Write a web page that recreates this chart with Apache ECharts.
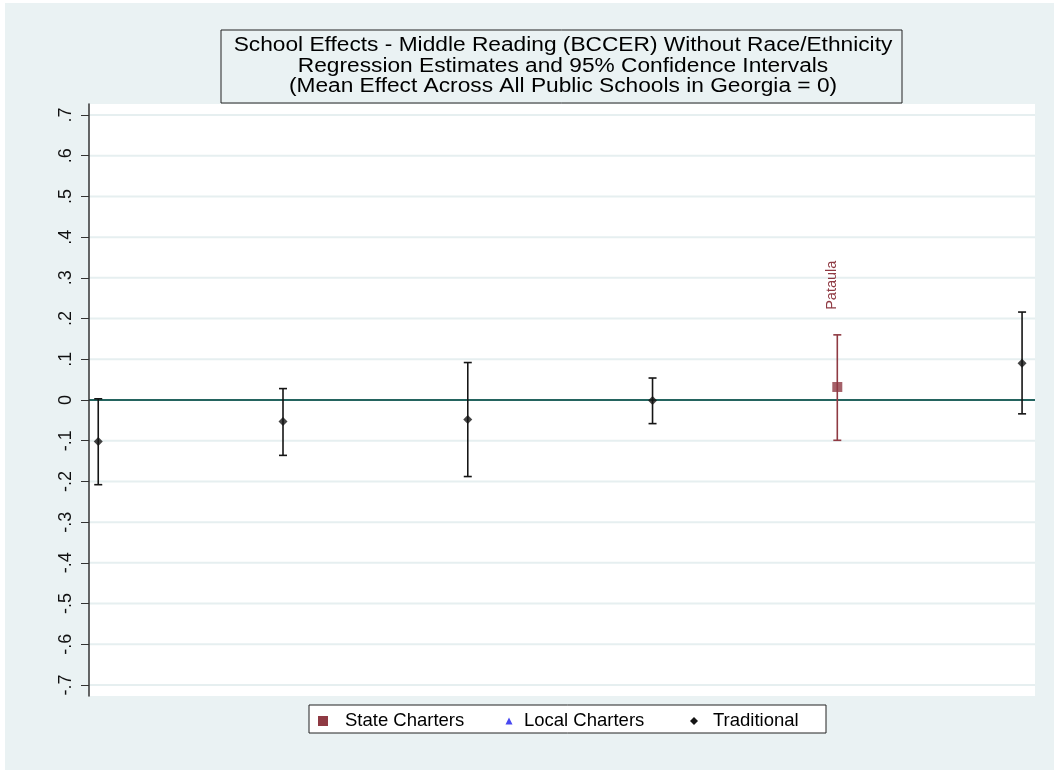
<!DOCTYPE html>
<html>
<head>
<meta charset="utf-8">
<script src="https://cdn.jsdelivr.net/npm/echarts@6/dist/echarts.min.js"></script>
<style>
html,body{margin:0;padding:0;background:#ffffff;}
#chart{width:1054px;height:770px;}
</style>
</head>
<body>
<div id="chart"></div>
<script>
// ---- data ----
const titleLines = [
  'School Effects - Middle Reading (BCCER) Without Race/Ethnicity',
  'Regression Estimates and 95% Confidence Intervals',
  '(Mean Effect Across All Public Schools in Georgia = 0)'
];
const yTicks = [-0.7,-0.6,-0.5,-0.4,-0.3,-0.2,-0.1,0,0.1,0.2,0.3,0.4,0.5,0.6,0.7];
const yTickLabels = ['-.7','-.6','-.5','-.4','-.3','-.2','-.1','0','.1','.2','.3','.4','.5','.6','.7'];
const refLine = [0];
// Traditional schools: position, estimate, lower CI, upper CI
const tradPos = [1, 2, 3, 4, 6];
const tradEst = [-0.102, -0.053, -0.048, -0.001, 0.090];
const tradLo  = [-0.208, -0.136, -0.188, -0.058, -0.034];
const tradHi  = [0.003, 0.028, 0.092, 0.054, 0.216];
// State charters
const statePos = [5];
const stateEst = [0.032];
const stateLo  = [-0.099];
const stateHi  = [0.160];
const stateNames = ['Pataula'];
// Local charters (none in this chart)
const localPos = [];
const localEst = [];
const legendNames = ['State Charters', 'Local Charters', 'Traditional'];

const FONT = '"Liberation Sans", Arial, Helvetica, sans-serif';
const RED = '#8f3a43';
const BLACK = '#151515';
const BLUE = '#1a1aee';

const tradPoints = tradPos.map((p,i)=>[p, tradEst[i]]);
const tradBars = tradPos.map((p,i)=>[p, tradLo[i], tradHi[i]]);
const statePoints = statePos.map((p,i)=>[p, stateEst[i]]);
const stateBars = statePos.map((p,i)=>[p, stateLo[i], stateHi[i], stateNames[i]]);
const localPoints = localPos.map((p,i)=>[p, localEst[i]]);

function hLine(color, width){
  return function(params, api){
    const cs = params.coordSys;
    const p = api.coord([1, api.value(0)]);
    return {type:'line', shape:{x1:cs.x, y1:p[1], x2:cs.x+cs.width, y2:p[1]},
            style:{stroke:color, lineWidth:width}};
  };
}

function errBar(color, withLabel){
  return function(params, api){
    const x = api.value(0);
    const lo = api.coord([x, api.value(1)]);
    const hi = api.coord([x, api.value(2)]);
    const cap = 4;
    const style = {stroke: color, lineWidth: 1.6, fill: null};
    const children = [
      {type:'line', shape:{x1:lo[0], y1:lo[1], x2:hi[0], y2:hi[1]}, style: style},
      {type:'line', shape:{x1:lo[0]-cap, y1:lo[1], x2:lo[0]+cap, y2:lo[1]}, style: style},
      {type:'line', shape:{x1:hi[0]-cap, y1:hi[1], x2:hi[0]+cap, y2:hi[1]}, style: style}
    ];
    if (withLabel) {
      children.push({
        type:'text', x: hi[0] - 5, y: hi[1] - 25, rotation: Math.PI/2,
        style:{text: api.value(3), fill: color, font: '14.5px ' + FONT, align:'left', verticalAlign:'middle'}
      });
    }
    return {type:'group', children: children};
  };
}

const titleStyle = (t)=>({text:t, font:'19.5px '+FONT, fill:'#000', align:'center', verticalAlign:'middle'});
const legendText = {fontFamily:FONT, fontSize:18.5, color:'#000', lineHeight:20};

const chart = echarts.init(document.getElementById('chart'), null, {renderer:'canvas'});
const option = {
  animation: false,
  backgroundColor: '#ffffff',
  graphic: [
    {type:'rect', z:-10, shape:{x:5, y:3, width:1049, height:767}, style:{fill:'#eaf2f3'}},
    {type:'rect', z:10, shape:{x:221, y:30, width:681, height:73}, style:{fill:'#eaf2f3', stroke:'#222', lineWidth:1}},
    {type:'text', z:11, x:563, y:46, scaleX:1.165, style:titleStyle(titleLines[0])},
    {type:'text', z:11, x:563, y:66.5, scaleX:1.165, style:titleStyle(titleLines[1])},
    {type:'text', z:11, x:563, y:87, scaleX:1.165, style:titleStyle(titleLines[2])},
    {type:'rect', z:10, shape:{x:309, y:705, width:517, height:28}, style:{fill:'#ffffff', stroke:'#222', lineWidth:1}}
  ],
  legend: [
    {data:[{name:legendNames[0], icon:'rect'}], left:318, top:711, padding:0, itemWidth:10, itemHeight:10, z:12,
     textStyle:Object.assign({padding:[0,0,0,12]}, legendText), selectedMode:false},
    {data:[{name:legendNames[1], icon:'triangle'}], left:505.5, top:711, padding:0, itemWidth:7, itemHeight:7, z:12,
     textStyle:Object.assign({padding:[0,0,0,6.5]}, legendText), selectedMode:false},
    {data:[{name:legendNames[2], icon:'diamond'}], left:690, top:711, padding:0, itemWidth:8, itemHeight:8, z:12,
     textStyle:Object.assign({padding:[0,0,0,10]}, legendText), selectedMode:false}
  ],
  grid: {left:89, right:19, top:104, bottom:74, show:true, backgroundColor:'#ffffff', borderWidth:0},
  xAxis: {type:'value', min:0.95, max:6.07, show:false},
  yAxis: {
    type:'value', min:-0.727, max:0.727, z:5,
    axisLine:{show:true, lineStyle:{color:'#333', width:1.5}},
    axisTick:{show:true, length:8, lineStyle:{color:'#333', width:1}, customValues: yTicks},
    axisLabel:{show:true, rotate:90, margin:14, fontFamily:FONT, fontSize:18, color:'#111',
      customValues: yTicks,
      formatter: function(v){ const i = yTicks.findIndex(t=>Math.abs(t-v)<1e-6); return i>=0 ? yTickLabels[i] : ''; }},
    splitLine:{show:false}
  },
  series: [
    {type:'custom', name:'gridlines', renderItem: hLine('#e6eff0', 2), data: yTicks.filter(v=>v!==0).map(v=>[v]), silent:true, z:1, legendHoverLink:false},
    {type:'custom', name:'zeroline', renderItem: hLine('#24645f', 2), data: refLine.map(v=>[v]), silent:true, z:2, legendHoverLink:false},
    {type:'custom', name:legendNames[2], renderItem: errBar(BLACK,false), data: tradBars, z:3, itemStyle:{color:BLACK}},
    {type:'custom', name:legendNames[0], renderItem: errBar(RED,true), data: stateBars, z:3, itemStyle:{color:RED}},
    {type:'scatter', name:legendNames[0], data: statePoints, symbol:'rect', symbolSize:10, itemStyle:{color:RED}, z:4},
    {type:'scatter', name:legendNames[1], data: localPoints, symbol:'triangle', symbolSize:7, itemStyle:{color:BLUE}, z:4},
    {type:'scatter', name:legendNames[2], data: tradPoints, symbol:'diamond', symbolSize:9, itemStyle:{color:BLACK}, z:4}
  ]
};
chart.setOption(option);
</script>
</body>
</html>
